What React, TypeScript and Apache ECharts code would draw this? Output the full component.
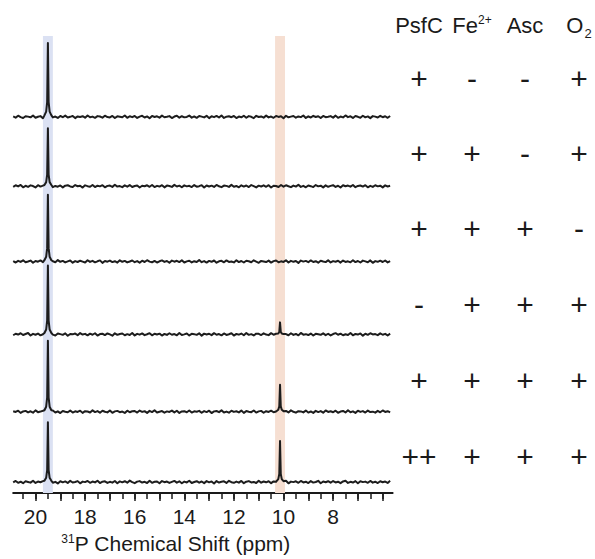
import React, { useEffect, useRef } from "react";
import * as echarts from "echarts";

const FONT = '"Liberation Sans", Arial, Helvetica, sans-serif';

// x axis (ppm, reversed)
const AXIS_MIN = 5.6;
const AXIS_MAX = 20.9;
const MINOR_MIN = 6;
const MINOR_MAX = 20.5;
const MAJOR_MIN = 6;
const MAJOR_MAX = 20;
const TICK_LABELS = [20, 18, 16, 14, 12, 10, 8];

// spectra: baseline offsets (stacked units), peak heights
const TRACE_BASELINES = [377, 307.5, 232, 159, 81.5, 11];
const PEAK_A_PPM = 19.5;
const PEAK_B_PPM = 10.14;
const PEAK_A_HEIGHTS = [74, 58, 67, 69, 71, 60];
const PEAK_B_HEIGHTS = [0, 0, 0, 12, 27, 41];
const PEAK_OFFSETS = [-0.14, -0.07, -0.03, 0, 0.03, 0.07, 0.14];
const PEAK_FRACTIONS = [0.02, 0.07, 0.2, 1, 0.2, 0.07, 0.02];

// highlighted bands (ppm ranges)
const BAND_A = [19.7, 19.3];
const BAND_B = [10.34, 9.94];

// baseline noise, sampled every 0.1 ppm from 20.9 ppm
const NOISE_START_PPM = 20.9;
const NOISE_STEP_PPM = 0.1;
const NOISE_1 = [
  0.4, -0.8, 1.1, -0.3, -1.2, 0.6, 0.2, -0.5, 1.3, -0.9,
  0.1, 0.7, -1.4, 0.5, -0.2, 1.0, -0.6, 0.3, -1.1, 0.8,
  -0.4, 1.2, -0.7, 0.0, 0.9, -1.3, 0.4, -0.1, 0.6, -0.9,
  1.4, -0.5, 0.2, -1.0, 0.7, 0.3, -0.8, 1.1, -0.2, -0.6,
  0.9, -1.2, 0.5, 0.1, -0.4, 1.3, -1.0, 0.6, -0.3, 0.8,
  -1.1, 0.2, 1.0, -0.7, 0.4, -1.4, 0.9, -0.2, 0.5, -0.8,
  1.2, -0.4, 0.0, 0.7, -1.2, 0.3, 1.1, -0.9, 0.6, -0.5,
  -0.1, 1.3, -0.8, 0.4, -1.0, 0.8, 0.2, -0.6, 1.0, -1.3,
  0.5, -0.3, 0.9, -0.7, 1.4, -1.1, 0.1, 0.6, -0.4, 0.8,
  -1.2, 0.3, -0.5, 1.1, -0.9, 0.7, 0.0, -1.3, 1.0, -0.2,
  0.4, -0.8, 1.2, -0.6, 0.3, -1.0, 0.9, -0.1, 0.6, -1.4,
  1.1, -0.5, 0.2, 0.8, -0.9, 0.4, -0.3, 1.3, -1.1, 0.5,
  -0.7, 1.0, -0.2, 0.6, -1.2, 0.9, -0.4, 0.1, 0.7, -0.8,
  1.2, -1.0, 0.3, -0.6, 1.4, -0.3, 0.5, -1.1, 0.8, 0.0,
  -0.9, 1.1, -0.5, 0.4, -1.3, 0.7, 0.2, -0.7, 1.0, -0.4,
  0.6, -1.0, 0.9,
];
const NOISE_2 = [
  -0.6, 0.9, -0.2, 1.2, -1.1, 0.4, -0.7, 0.8, 0.1, -1.3,
  1.0, -0.4, 0.6, -0.9, 0.3, 1.3, -1.0, 0.2, -0.5, 0.7,
  -1.2, 0.5, 0.9, -0.3, -0.8, 1.1, -0.1, 0.4, -1.4, 0.8,
  0.0, -0.6, 1.2, -0.9, 0.5, -0.2, 1.0, -1.1, 0.3, 0.6,
  -0.7, 1.4, -0.4, 0.1, -1.0, 0.8, -0.5, 1.1, -0.8, 0.2,
  0.7, -1.3, 0.4, -0.1, 0.9, -0.6, 1.2, -0.9, 0.3, -0.4,
  1.0, -1.2, 0.6, 0.2, -0.7, 1.3, -0.3, 0.5, -1.1, 0.8,
  -0.2, 0.4, -0.9, 1.1, -0.5, 0.0, 1.0, -1.4, 0.7, -0.3,
  0.5, -0.8, 1.2, -0.1, -1.0, 0.6, 0.3, -0.7, 1.3, -0.6,
  0.2, -1.1, 0.9, -0.4, 0.7, -0.9, 1.1, 0.1, -1.2, 0.5,
  -0.3, 0.8, -0.6, 1.0, -1.3, 0.4, 0.2, -0.8, 1.2, -0.5,
  0.9, -0.1, -1.0, 0.6, -0.4, 1.4, -0.7, 0.3, -1.1, 0.7,
  0.0, -0.9, 1.1, -0.2, 0.5, -1.2, 0.8, -0.6, 0.3, 1.0,
  -0.8, 0.4, -1.3, 0.9, -0.1, 0.6, -0.5, 1.2, -1.0, 0.2,
  0.7, -0.4, 1.0, -1.1, 0.3, -0.7, 0.9, -0.2, 0.5, -1.2,
  0.8, -0.3, 0.4,
];
const NOISE_3 = [
  0.3, -1.0, 0.7, -0.4, 1.2, -0.8, 0.0, 0.9, -1.3, 0.5,
  -0.2, 1.1, -0.6, 0.4, -1.1, 0.8, 0.2, -0.7, 1.4, -0.3,
  0.6, -0.9, 0.1, 1.0, -1.2, 0.4, -0.5, 0.8, -0.1, -1.0,
  1.3, -0.4, 0.7, -0.8, 0.2, 1.1, -1.4, 0.5, -0.2, 0.9,
  -0.6, 0.3, -1.1, 1.2, -0.3, 0.6, -0.9, 0.0, 1.0, -0.7,
  0.4, -1.2, 0.8, -0.5, 1.3, -0.1, -0.8, 0.6, -1.0, 0.2,
  1.1, -0.4, 0.5, -1.3, 0.9, -0.2, 0.7, -0.6, 1.2, -1.0,
  0.1, 0.8, -0.9, 0.3, -0.5, 1.4, -0.7, 0.4, -1.1, 0.6,
  -0.3, 1.0, -1.2, 0.2, 0.7, -0.8, 1.1, -0.4, 0.0, -0.9,
  1.3, -0.6, 0.5, -1.0, 0.8, 0.3, -0.7, 1.2, -0.2, -1.3,
  0.6, 0.1, -0.5, 0.9, -1.1, 0.4, 1.0, -0.8, 0.2, -0.4,
  1.2, -1.0, 0.7, -0.3, 0.5, -1.4, 0.9, -0.1, 0.6, -0.7,
  1.1, -0.5, 0.3, -1.2, 0.8, 0.0, -0.6, 1.3, -0.9, 0.4,
  -0.2, 0.7, -1.1, 1.0, -0.4, 0.2, -0.8, 1.2, -0.6, 0.5,
  -1.0, 0.9, 0.1, -0.7, 1.1, -1.3, 0.4, -0.3, 0.8, -0.5,
  1.0, -0.9, 0.3,
];
const NOISE_4 = [
  -0.9, 0.6, -0.2, 1.1, -0.7, 0.3, 1.3, -1.2, 0.5, -0.4,
  0.8, -1.0, 0.1, 0.7, -0.6, 1.2, -0.3, -1.1, 0.9, 0.2,
  -0.5, 1.0, -1.4, 0.4, 0.0, 0.8, -0.8, 1.3, -0.2, 0.5,
  -1.0, 0.7, -0.4, 1.1, -1.2, 0.3, 0.6, -0.7, 0.9, -0.1,
  -1.3, 1.0, -0.5, 0.4, 0.8, -0.9, 0.2, -0.6, 1.4, -1.1,
  0.5, -0.3, 0.9, -0.8, 0.1, 1.2, -1.0, 0.6, -0.2, 0.7,
  -1.2, 0.4, -0.6, 1.1, -0.4, 0.3, -0.9, 1.3, -0.7, 0.0,
  0.8, -1.1, 0.5, 0.2, -0.5, 1.0, -1.3, 0.7, -0.1, 0.6,
  -0.8, 1.2, -0.4, 0.3, -1.0, 0.9, -0.6, 0.1, 1.1, -1.2,
  0.4, -0.3, 0.8, -0.9, 1.3, -0.5, 0.2, -1.1, 0.7, 0.5,
  -0.7, 1.0, -0.2, -0.8, 1.2, -0.4, 0.6, -1.3, 0.9, -0.1,
  0.3, -0.9, 1.1, -0.6, 0.4, -1.0, 1.4, -0.3, 0.2, -0.7,
  0.8, -1.2, 0.5, 0.0, -0.5, 1.0, -0.8, 0.6, -1.1, 0.3,
  1.2, -0.4, 0.7, -0.9, 0.1, -0.6, 1.3, -1.0, 0.4, -0.2,
  0.9, -1.3, 0.6, -0.5, 1.1, -0.1, 0.3, -0.8, 1.0, -0.4,
  0.5, -1.1, 0.7,
];
const NOISE_5 = [
  0.5, -0.3, 1.0, -1.2, 0.2, 0.8, -0.7, 0.4, -1.0, 1.3,
  -0.5, 0.1, 0.9, -1.1, 0.6, -0.2, 1.2, -0.8, 0.3, -1.4,
  0.7, 0.0, -0.6, 1.1, -0.9, 0.4, -0.3, 1.0, -1.2, 0.5,
  0.2, -0.8, 1.3, -0.4, 0.6, -1.0, 0.9, -0.1, -0.7, 1.2,
  -1.1, 0.3, 0.8, -0.5, 0.1, -1.3, 1.0, -0.6, 0.4, 0.7,
  -0.9, 1.1, -0.2, 0.5, -1.2, 0.8, -0.4, 1.4, -0.8, 0.0,
  0.6, -1.0, 0.3, -0.3, 1.1, -0.7, 0.9, -1.3, 0.2, 0.5,
  -0.6, 1.2, -0.9, 0.4, -0.1, 0.8, -1.1, 0.6, -0.4, 1.0,
  -1.4, 0.3, 0.7, -0.5, 1.3, -0.8, 0.1, -1.0, 0.9, -0.2,
  0.4, -0.7, 1.1, -1.2, 0.6, 0.0, -0.5, 1.2, -0.9, 0.3,
  0.8, -1.1, 0.5, -0.3, 1.0, -0.6, 0.2, -1.3, 0.9, -0.4,
  0.7, -0.8, 1.3, -0.1, -1.0, 0.5, 0.3, -0.7, 1.1, -0.9,
  0.2, -1.2, 0.8, -0.4, 0.6, -1.0, 1.2, -0.3, 0.4, -0.6,
  1.0, -1.1, 0.1, 0.7, -0.8, 1.4, -0.5, 0.3, -1.2, 0.9,
  -0.2, 0.6, -0.9, 1.1, -0.4, 0.0, -1.0, 0.8, -0.6, 1.2,
  -0.3, 0.5, -0.8,
];
const NOISE_6 = [
  -0.4, 1.1, -0.8, 0.3, -1.2, 0.7, 0.1, -0.6, 1.3, -0.9,
  0.5, -0.2, 0.9, -1.1, 0.4, 1.0, -0.7, 0.2, -1.4, 0.8,
  -0.3, 0.6, -1.0, 1.2, -0.5, 0.0, 0.9, -1.3, 0.4, -0.1,
  1.1, -0.8, 0.5, -0.4, 1.3, -1.0, 0.3, 0.7, -0.9, 0.2,
  -0.6, 1.0, -1.2, 0.6, -0.3, 0.8, -0.7, 1.4, -0.1, -1.1,
  0.4, 0.9, -0.5, 0.2, -1.0, 1.2, -0.8, 0.3, 0.6, -1.3,
  1.0, -0.2, 0.5, -0.9, 0.1, 1.1, -0.6, 0.7, -1.2, 0.4,
  -0.4, 1.3, -1.0, 0.0, 0.8, -0.7, 0.5, -1.1, 0.9, -0.3,
  0.6, -1.4, 1.0, -0.5, 0.2, 0.7, -0.9, 1.2, -0.2, -0.8,
  0.4, -0.6, 1.1, -1.2, 0.3, 0.9, -0.4, 0.1, -1.0, 1.3,
  -0.7, 0.5, -0.3, 0.8, -1.1, 0.6, 0.2, -0.9, 1.0, -0.5,
  1.2, -1.3, 0.4, -0.1, 0.7, -0.8, 1.1, -0.4, 0.3, -1.0,
  0.9, -0.6, 0.0, 1.2, -1.2, 0.5, -0.2, 0.8, -0.7, 1.0,
  -0.4, 0.3, -1.1, 0.6, 1.3, -0.9, 0.2, -0.5, 0.9, -1.3,
  0.7, -0.1, 0.4, -0.8, 1.1, -0.6, 0.3, -1.0, 0.8, -0.2,
  0.5, -0.9, 1.2,
];
const TRACE_NOISE = [NOISE_1, NOISE_2, NOISE_3, NOISE_4, NOISE_5, NOISE_6];

// condition table
const HEADERS = ["PsfC", "Fe{sup|2+}", "Asc", "O{sub|2}"];
const CONDITIONS = [
  ["+", "-", "-", "+"],
  ["+", "+", "-", "+"],
  ["+", "+", "+", "-"],
  ["-", "+", "+", "+"],
  ["+", "+", "+", "+"],
  ["++", "+", "+", "+"],
];

// layout constants
const W = 595;
const H = 559;
const PX_PER_PPM = 24.8;
const X_AT_20 = 35.5;
const AXIS_Y = 494;
const GRID_TOP = 36;
const COL_X = [419, 472, 525, 579];
const HEADER_Y = 25;
const ROW_Y = [78, 153, 228, 304, 380, 456];

function buildTrace(i: number): number[][] {
  const base = TRACE_BASELINES[i];
  const peaks = [
    { c: PEAK_A_PPM, h: PEAK_A_HEIGHTS[i] },
    { c: PEAK_B_PPM, h: PEAK_B_HEIGHTS[i] },
  ].filter((p) => p.h > 0);
  const pts: number[][] = [];
  TRACE_NOISE[i].forEach((n, k) => {
    const x = +(NOISE_START_PPM - k * NOISE_STEP_PPM).toFixed(3);
    if (peaks.some((p) => Math.abs(x - p.c) < 0.15)) return;
    pts.push([x, base + n]);
  });
  peaks.forEach((p) =>
    PEAK_OFFSETS.forEach((o, j) => pts.push([+(p.c + o).toFixed(3), base + p.h * PEAK_FRACTIONS[j]]))
  );
  pts.sort((a, b) => b[0] - a[0]);
  return pts;
}

function gridFor(minV: number, maxV: number, gridBottom: number) {
  const left = X_AT_20 - (maxV - 20) * PX_PER_PPM;
  const right = W - (X_AT_20 + (20 - minV) * PX_PER_PPM);
  return { left, right, top: GRID_TOP, bottom: gridBottom, containLabel: false };
}

function buildOption(): any {
  const gridBottom = H - AXIS_Y;
  const yMax = AXIS_Y - GRID_TOP;

  const series: any[] = TRACE_BASELINES.map((_, i) => ({
    type: "line",
    xAxisIndex: 0,
    yAxisIndex: 0,
    data: buildTrace(i),
    showSymbol: false,
    symbol: "none",
    silent: true,
    z: 3,
    lineStyle: { color: "#1d1d1d", width: 2, join: "round" },
    markArea:
      i === 0
        ? {
            silent: true,
            z: 1,
            data: [
              [{ xAxis: BAND_A[0], itemStyle: { color: "#dbe1f3" } }, { xAxis: BAND_A[1] }],
              [{ xAxis: BAND_B[0], itemStyle: { color: "#f6dfd2" } }, { xAxis: BAND_B[1] }],
            ],
          }
        : undefined,
  }));

  const graphics: any[] = [];
  HEADERS.forEach((h, c) => {
    graphics.push({
      type: "text",
      x: COL_X[c],
      y: HEADER_Y,
      style: {
        text: h,
        fontFamily: FONT,
        fontSize: 22,
        fill: "#1a1a1a",
        align: "center",
        verticalAlign: "middle",
        rich: {
          sup: { fontFamily: FONT, fontSize: 12, fill: "#1a1a1a", verticalAlign: "top" },
          sub: { fontFamily: FONT, fontSize: 13, fill: "#1a1a1a", verticalAlign: "bottom", padding: [16, 0, 0, 1] },
        },
      },
    });
  });
  CONDITIONS.forEach((row, r) => {
    row.forEach((s, c) => {
      graphics.push({
        type: "text",
        x: COL_X[c],
        y: ROW_Y[r],
        style: {
          text: s,
          fontFamily: FONT,
          fontSize: 30,
          fill: "#1a1a1a",
          align: "center",
          verticalAlign: "middle",
        },
      });
    });
  });

  return {
    animation: false,
    backgroundColor: "#ffffff",
    textStyle: { fontFamily: FONT },
    grid: [
      gridFor(AXIS_MIN, AXIS_MAX, gridBottom),
      gridFor(MINOR_MIN, MINOR_MAX, gridBottom),
      gridFor(MAJOR_MIN, MAJOR_MAX, gridBottom),
    ],
    xAxis: [
      {
        type: "value",
        gridIndex: 0,
        min: AXIS_MIN,
        max: AXIS_MAX,
        inverse: true,
        splitLine: { show: false },
        axisLine: { show: true, lineStyle: { color: "#1a1a1a", width: 2 } },
        axisTick: { show: false },
        axisLabel: { show: false },
        name: "{sup|31}P Chemical Shift (ppm)",
        nameLocation: "middle",
        nameGap: 40,
        nameTextStyle: {
          fontFamily: FONT,
          fontSize: 21,
          color: "#1a1a1a",
          padding: [0, 54, 0, 0],
          rich: {
            sup: { fontFamily: FONT, fontSize: 12, color: "#1a1a1a", verticalAlign: "top" },
          },
        },
      },
      {
        type: "value",
        gridIndex: 1,
        min: MINOR_MIN,
        max: MINOR_MAX,
        interval: 0.5,
        inverse: true,
        splitLine: { show: false },
        axisLine: { show: false },
        axisTick: { show: true, length: 5, lineStyle: { color: "#1a1a1a", width: 1.5 } },
        axisLabel: { show: false },
      },
      {
        type: "value",
        gridIndex: 2,
        min: MAJOR_MIN,
        max: MAJOR_MAX,
        interval: 1,
        inverse: true,
        splitLine: { show: false },
        axisLine: { show: false },
        axisTick: { show: true, length: 7, lineStyle: { color: "#1a1a1a", width: 1.5 } },
        axisLabel: {
          show: true,
          interval: 0,
          margin: 12,
          fontFamily: FONT,
          fontSize: 21,
          color: "#1a1a1a",
          formatter: (v: number) => (TICK_LABELS.includes(v) ? String(v) : ""),
        },
      },
    ],
    yAxis: [
      { type: "value", gridIndex: 0, min: 0, max: yMax, show: false },
      { type: "value", gridIndex: 1, min: 0, max: yMax, show: false },
      { type: "value", gridIndex: 2, min: 0, max: yMax, show: false },
    ],
    series,
    graphic: graphics,
  };
}

export default function App() {
  const ref = useRef<HTMLDivElement>(null);
  useEffect(() => {
    if (!ref.current) return;
    const chart = echarts.init(ref.current, undefined, { renderer: "svg" });
    chart.setOption(buildOption());
    return () => chart.dispose();
  }, []);
  return (
    <div
      ref={ref}
      style={{ position: "absolute", left: 0, top: 0, width: W, height: H, background: "#fff" }}
    />
  );
}
